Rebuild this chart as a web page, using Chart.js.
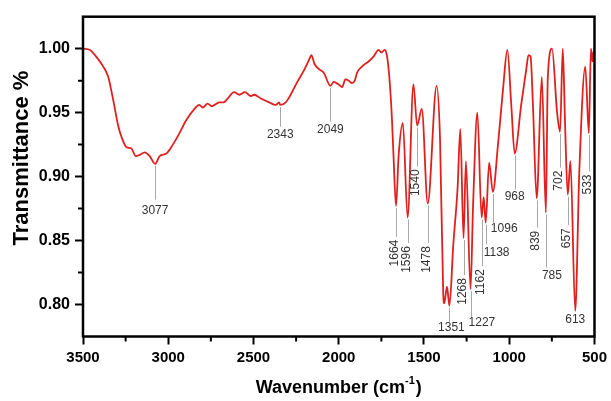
<!DOCTYPE html>
<html>
<head>
<meta charset="utf-8">
<title>FTIR spectrum</title>
<script src="https://cdn.jsdelivr.net/npm/chart.js@4.4.1/dist/chart.umd.min.js"></script>
<style>
  html, body { margin: 0; padding: 0; background: #fff; }
  #wrap { width: 611px; height: 401px; }
</style>
</head>
<body>
<div id="wrap"><canvas id="spectrum" width="611" height="401"></canvas></div>
<script>
// Spectrum readings: wavenumber (cm-1) against transmittance
const wavenumber = [
  3500, 3459, 3430, 3381, 3352, 3332, 3313, 3294, 3274, 3245,
  3216, 3191, 3167, 3138, 3109, 3077, 3050, 3011, 2973, 2934,
  2895, 2846, 2817, 2798, 2769, 2745, 2700, 2675, 2652, 2613,
  2583, 2550, 2515, 2496, 2457, 2408, 2369, 2350, 2343, 2311,
  2282, 2243, 2204, 2175, 2161, 2142, 2116, 2087, 2049, 2029,
  2000, 1980, 1961, 1941, 1922, 1906, 1893, 1864, 1825, 1795,
  1766, 1750, 1731, 1718, 1704, 1689, 1679, 1664, 1649, 1624,
  1596, 1562, 1540, 1513, 1478, 1426, 1406, 1387, 1381, 1365,
  1351, 1328, 1303, 1287, 1268, 1254, 1227, 1212, 1187, 1162,
  1150, 1138, 1118, 1096, 1066, 1036, 1011, 988, 968, 930,
  900, 887, 875, 861, 839, 809, 785, 774, 749, 720,
  702, 686, 673, 657, 641, 613, 589, 554, 533, 521,
  512, 505, 500
];
const transmittance = [
  1.000, 0.999, 0.995, 0.986, 0.978, 0.966, 0.953, 0.940, 0.931, 0.923,
  0.922, 0.916, 0.917, 0.919, 0.916, 0.910, 0.916, 0.918, 0.925, 0.934,
  0.944, 0.953, 0.956, 0.954, 0.957, 0.955, 0.958, 0.958, 0.961, 0.966,
  0.964, 0.966, 0.963, 0.964, 0.961, 0.958, 0.956, 0.958, 0.956, 0.958,
  0.964, 0.974, 0.983, 0.991, 0.995, 0.988, 0.984, 0.981, 0.971, 0.974,
  0.972, 0.970, 0.976, 0.975, 0.973, 0.975, 0.981, 0.986, 0.990, 0.994,
  0.999, 0.997, 0.999, 0.995, 0.979, 0.948, 0.917, 0.877, 0.916, 0.942,
  0.868, 0.972, 0.940, 0.953, 0.879, 0.971, 0.930, 0.808, 0.801, 0.814,
  0.799, 0.847, 0.891, 0.937, 0.852, 0.912, 0.812, 0.878, 0.950, 0.868,
  0.884, 0.864, 0.911, 0.888, 0.925, 0.969, 0.999, 0.956, 0.918, 0.956,
  0.984, 0.995, 0.994, 0.956, 0.883, 0.978, 0.872, 0.977, 1.000, 0.951,
  0.935, 1.000, 0.943, 0.886, 0.912, 0.795, 0.904, 0.986, 0.934, 1.000,
  0.990, 0.998, 0.990
];

const xTicks = [3500, 3000, 2500, 2000, 1500, 1000, 500];
const xMinorTicks = [3250, 2750, 2250, 1750, 1250, 750];
const yTicks = [0.80, 0.85, 0.90, 0.95, 1.00];
const yMinorTicks = [0.825, 0.875, 0.925, 0.975];

// Assigned bands
const peakLabels = [3077, 2343, 2049, 1664, 1596, 1540, 1478, 1351, 1268, 1227,
  1162, 1138, 1096, 968, 839, 785, 702, 657, 613, 533];

// where each leader line stops (transmittance) and how its label sits:
// "below" = centred under the line, "side" = starts at the line, "up" = rotated
const peakLayout = {
  3077: { end: 0.882, style: "below", dy: 11 },
  2343: { end: 0.939, style: "below" },
  2049: { end: 0.943, style: "below" },
  1664: { end: 0.853, style: "up" },
  1596: { end: 0.848, style: "up" },
  1540: { end: 0.908, style: "up" },
  1478: { end: 0.848, style: "up" },
  1351: { end: 0.786, style: "below", dx: 2, dy: 5 },
  1268: { end: 0.823, style: "up" },
  1227: { end: 0.790, style: "side", dy: 5 },
  1162: { end: 0.830, style: "up" },
  1138: { end: 0.847, style: "side" },
  1096: { end: 0.864, style: "side", dy: 6 },
  968:  { end: 0.890, style: "below", dy: 7 },
  839:  { end: 0.860, style: "up" },
  785:  { end: 0.829, style: "below", dx: 6 },
  702:  { end: 0.907, style: "up" },
  657:  { end: 0.862, style: "up" },
  613:  { end: 0.795, style: "below", dy: 7 },
  533:  { end: 0.904, style: "up" }
};

const FONT = "'Liberation Sans', Arial, Helvetica, sans-serif";

// frame, minor ticks, axis titles, band labels
const spectrumExtras = {
  id: "spectrumExtras",
  afterDatasetsDraw(chart) {
    const { ctx, chartArea: a, scales: { x, y } } = chart;
    ctx.save();
    ctx.strokeStyle = "#000";
    ctx.lineWidth = 2;
    ctx.beginPath();
    xMinorTicks.forEach(v => {
      const px = x.getPixelForValue(v);
      ctx.moveTo(px, a.bottom);
      ctx.lineTo(px, a.bottom + 5);
    });
    yMinorTicks.forEach(v => {
      const py = y.getPixelForValue(v);
      ctx.moveTo(a.left, py);
      ctx.lineTo(a.left - 5, py);
    });
    ctx.stroke();
    ctx.lineWidth = 2.5;
    ctx.strokeRect(a.left, a.top, a.right - a.left, a.bottom - a.top);
    ctx.restore();
  },
  afterDraw(chart) {
    const { ctx, chartArea: a, scales: { x, y } } = chart;
    ctx.save();

    // band labels
    ctx.font = "12px " + FONT;
    peakLabels.forEach(w => {
      const lay = peakLayout[w];
      const px = x.getPixelForValue(w);
      const trough = transmittance[wavenumber.indexOf(w)];
      const top = y.getPixelForValue(trough) + 2;
      const bottom = y.getPixelForValue(lay.end);
      if (bottom > top) {
        ctx.strokeStyle = "#a8a8a8";
        ctx.lineWidth = 1;
        ctx.beginPath();
        ctx.moveTo(Math.round(px) + 0.5, top);
        ctx.lineTo(Math.round(px) + 0.5, bottom);
        ctx.stroke();
      }
      ctx.fillStyle = "#333";
      const text = String(w);
      if (lay.style === "up") {
        ctx.save();
        ctx.translate(px - 1, Math.max(bottom, top) + 3);
        ctx.rotate(-Math.PI / 2);
        ctx.textAlign = "right";
        ctx.textBaseline = "middle";
        ctx.fillText(text, 0, 0);
        ctx.restore();
      } else {
        ctx.textBaseline = "middle";
        const ty = Math.max(bottom, top) + (lay.dy !== undefined ? lay.dy : 8);
        if (lay.style === "side") {
          ctx.textAlign = "left";
          ctx.fillText(text, px - 2, ty);
        } else {
          ctx.textAlign = "center";
          ctx.fillText(text, px + (lay.dx || 0), ty);
        }
      }
    });

    // y axis title
    ctx.fillStyle = "#000";
    ctx.save();
    ctx.translate(22, 158);
    ctx.rotate(-Math.PI / 2);
    ctx.textAlign = "center";
    ctx.textBaseline = "middle";
    ctx.font = "bold 22px " + FONT;
    ctx.fillText("Transmittance %", 0, 0);
    ctx.restore();

    // x axis title: Wavenumber (cm^-1)
    const main = "Wavenumber (cm";
    const sup = "-1";
    const close = ")";
    ctx.textAlign = "left";
    ctx.textBaseline = "middle";
    ctx.font = "bold 18px " + FONT;
    const wMain = ctx.measureText(main).width;
    const wClose = ctx.measureText(close).width;
    ctx.font = "bold 11px " + FONT;
    const wSup = ctx.measureText(sup).width;
    let tx = (a.left + a.right) / 2 - (wMain + wSup + wClose + 1) / 2;
    const ty = 388;
    ctx.font = "bold 18px " + FONT;
    ctx.fillText(main, tx, ty);
    tx += wMain;
    ctx.font = "bold 11px " + FONT;
    ctx.fillText(sup, tx, ty - 7);
    tx += wSup + 1;
    ctx.font = "bold 18px " + FONT;
    ctx.fillText(close, tx, ty);

    ctx.restore();
  }
};

const ctx = document.getElementById("spectrum").getContext("2d");
const spectrumChart = new Chart(ctx, {
  type: "line",
  data: {
    datasets: [{
      data: wavenumber.map((w, i) => ({ x: w, y: transmittance[i] })),
      borderColor: "#e0201e",
      borderWidth: 1.8,
      pointRadius: 0,
      fill: false,
      cubicInterpolationMode: "monotone"
    }]
  },
  options: {
    responsive: false,
    animation: false,
    devicePixelRatio: 1,
    layout: { padding: { top: 16.7, right: 14, bottom: 0, left: 0 } },
    plugins: {
      legend: { display: false },
      tooltip: { enabled: false }
    },
    scales: {
      x: {
        type: "linear",
        reverse: true,
        min: 500,
        max: 3500,
        afterBuildTicks: s => { s.ticks = xTicks.map(v => ({ value: v })); },
        afterFit: s => { s.height = 64.5; },
        ticks: {
          color: "#000",
          padding: 4,
          maxRotation: 0,
          autoSkip: false,
          font: { family: FONT, size: 15, weight: "bold" },
          callback: v => String(v)
        },
        grid: {
          display: true,
          drawOnChartArea: false,
          drawTicks: true,
          tickLength: 8,
          tickWidth: 2,
          tickColor: "#000",
          color: "#000"
        },
        border: { display: false },
        title: { display: false }
      },
      y: {
        type: "linear",
        min: 0.775,
        max: 1.025,
        afterBuildTicks: s => { s.ticks = yTicks.map(v => ({ value: v })); },
        afterFit: s => { s.width = 83; },
        ticks: {
          color: "#000",
          padding: 5,
          font: { family: FONT, size: 16, weight: "bold" },
          callback: v => Number(v).toFixed(2)
        },
        grid: {
          display: true,
          drawOnChartArea: false,
          drawTicks: true,
          tickLength: 8,
          tickWidth: 2,
          tickColor: "#000",
          color: "#000"
        },
        border: { display: false },
        title: { display: false }
      }
    }
  },
  plugins: [spectrumExtras]
});
</script>
</body>
</html>
